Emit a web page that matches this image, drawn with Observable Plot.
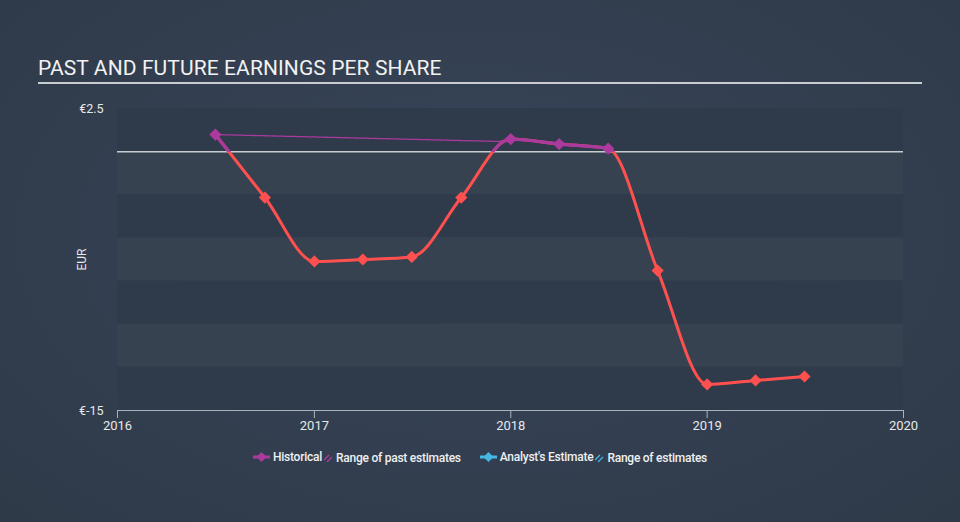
<!DOCTYPE html>
<html>
<head>
<meta charset="utf-8">
<script src="https://cdn.jsdelivr.net/npm/d3@7"></script>
<script src="https://cdn.jsdelivr.net/npm/@observablehq/plot@0.6"></script>
<style>
  html, body { margin: 0; padding: 0; }
  body {
    width: 960px; height: 522px; overflow: hidden; position: relative;
    background: radial-gradient(ellipse at 50% 45%, #38455a 0%, #333f50 55%, #2e3a48 100%);
    font-family: Roboto, "Noto Sans", sans-serif;
  }
  #title {
    position: absolute; left: 38px; top: 56px; width: 884px;
    color: #f2f2f2; font-size: 21px; letter-spacing: 0.1px;
    border-bottom: 2px solid #c9ccd0; padding-bottom: 2px; line-height: 24px;
  }
  #chart { position: absolute; left: 0; top: 90px; }
  #legend {
    position: absolute; left: 0; width: 960px; top: 450px; text-align: center;
    color: #eef0f2; font-size: 12px; font-weight: 500; line-height: 14px; letter-spacing: -0.25px;
  }
  #legend span.item { display: inline-flex; align-items: center; margin: 0 5px; }
  #legend svg { margin-right: 3px; }
</style>
</head>
<body>
<div id="title">PAST AND FUTURE EARNINGS PER SHARE</div>
<div id="chart"></div>
<div id="legend"></div>
<script>
// ---- data ----
const dates = ["2016-07-01","2016-10-01","2017-01-01","2017-04-01","2017-07-01","2017-10-01",
               "2018-01-01","2018-04-01","2018-07-01","2018-10-01","2019-01-01","2019-04-01","2019-07-01"];
const eps = [0.99, -2.66, -6.36, -6.25, -6.1, -2.66, 0.73, 0.44, 0.18, -6.89, -13.49, -13.26, -13.03];
const annualDates = ["2016-07-01", "2017-12-25"];
const annualEps = [0.99, 0.58];
const yTicks = [2.5, -15];
const xTicks = ["2016-01-01","2017-01-01","2018-01-01","2019-01-01","2020-01-01"];
const bandLevels = [2.5, 0, -2.5, -5, -7.5, -10, -12.5, -15];

const purple = "#ac3a9e";
const red = "#ff5050";

const series = dates.map((d, i) => ({date: new Date(d), value: eps[i]}));
const annual = annualDates.map((d, i) => ({date: new Date(d), value: annualEps[i]}));
const bands = bandLevels.slice(0, -1).map((v, i) => ({y1: v, y2: bandLevels[i + 1], dark: i % 2 === 0}));

const plot = Plot.plot({
  width: 960,
  height: 350,
  marginLeft: 117,
  marginRight: 57,
  marginTop: 18,
  marginBottom: 30,
  style: {background: "transparent", fontFamily: "Roboto, sans-serif", fontSize: "12.5px", color: "#e6e8ea"},
  x: {type: "utc", domain: [new Date(xTicks[0]), new Date(xTicks[xTicks.length - 1])]},
  y: {domain: [-15, 2.5]},
  marks: [
    Plot.rect(bands, {y1: "y1", y2: "y2", fill: d => d.dark ? "#2f3b4b" : "#36424f"}),
    Plot.ruleY([0], {stroke: "#c8ccd0", strokeWidth: 1.5}),
    Plot.ruleY([-15], {stroke: "#a9b2bc", strokeWidth: 1.2}),
    Plot.axisX({ticks: xTicks.map(d => new Date(d)), tickFormat: d3.utcFormat("%Y"), tickSize: 8, tickPadding: 2, stroke: "#a9b2bc", label: null, fontSize: 13}),
    Plot.axisY({ticks: yTicks, tickFormat: d => "€" + d, tickSize: 0, tickPadding: 14, label: null, fontSize: 12.5}),
    Plot.text(["EUR"], {frameAnchor: "left", textAnchor: "middle", rotate: -90, dx: -35, text: d => d, fill: "#e6e8ea", fontSize: 12}),
    Plot.line(annual, {x: "date", y: "value", stroke: purple, strokeWidth: 1.3, strokeDasharray: "2,1"}),
    Plot.line(series, {x: "date", y: "value", stroke: red, strokeWidth: 3, curve: "monotone-x"}),
    Plot.line(series, {x: "date", y: "value", stroke: purple, strokeWidth: 3.2, curve: "monotone-x"}),
    Plot.dot(series, {x: "date", y: "value", symbol: "diamond2", r: 5.5, fill: d => d.value > 0 ? purple : red, stroke: null})
  ]
});

// clip the purple copy of the line to the region above zero
const y0 = plot.scale("y").apply(0);
const svg = d3.select(plot);
const defs = svg.insert("defs", ":first-child");
defs.append("clipPath").attr("id", "abovezero").attr("clipPathUnits", "userSpaceOnUse")
  .append("rect").attr("x", -10).attr("y", -10).attr("width", 980).attr("height", y0 + 10);
const lines = svg.selectAll('g[aria-label="line"]').nodes();
if (lines.length >= 3) d3.select(lines[2]).attr("clip-path", "url(#abovezero)");

document.getElementById("chart").appendChild(plot);

// legend
function diamondIcon(color) {
  return `<svg width="17" height="12"><line x1="0" y1="6" x2="17" y2="6" stroke="${color}" stroke-width="3"/><path d="M8.5 1 L13.5 6 L8.5 11 L3.5 6 Z" fill="${color}"/></svg>`;
}
function hatchIcon(color) {
  return `<svg width="9" height="10"><line x1="0" y1="7" x2="5" y2="2" stroke="${color}" stroke-width="1.3"/><line x1="3" y1="9" x2="8" y2="4" stroke="${color}" stroke-width="1.3"/></svg>`;
}
document.getElementById("legend").innerHTML =
  `<span class="item">${diamondIcon(purple)}Historical</span>` +
  `<span class="item" style="margin-left:-3px">${hatchIcon(purple)}Range of past estimates</span>` +
  `<span class="item" style="margin-left:14px">${diamondIcon("#45b8e4")}Analyst's Estimate</span>` +
  `<span class="item" style="margin-left:-3px">${hatchIcon("#45b8e4")}Range of estimates</span>`;
</script>
</body>
</html>
